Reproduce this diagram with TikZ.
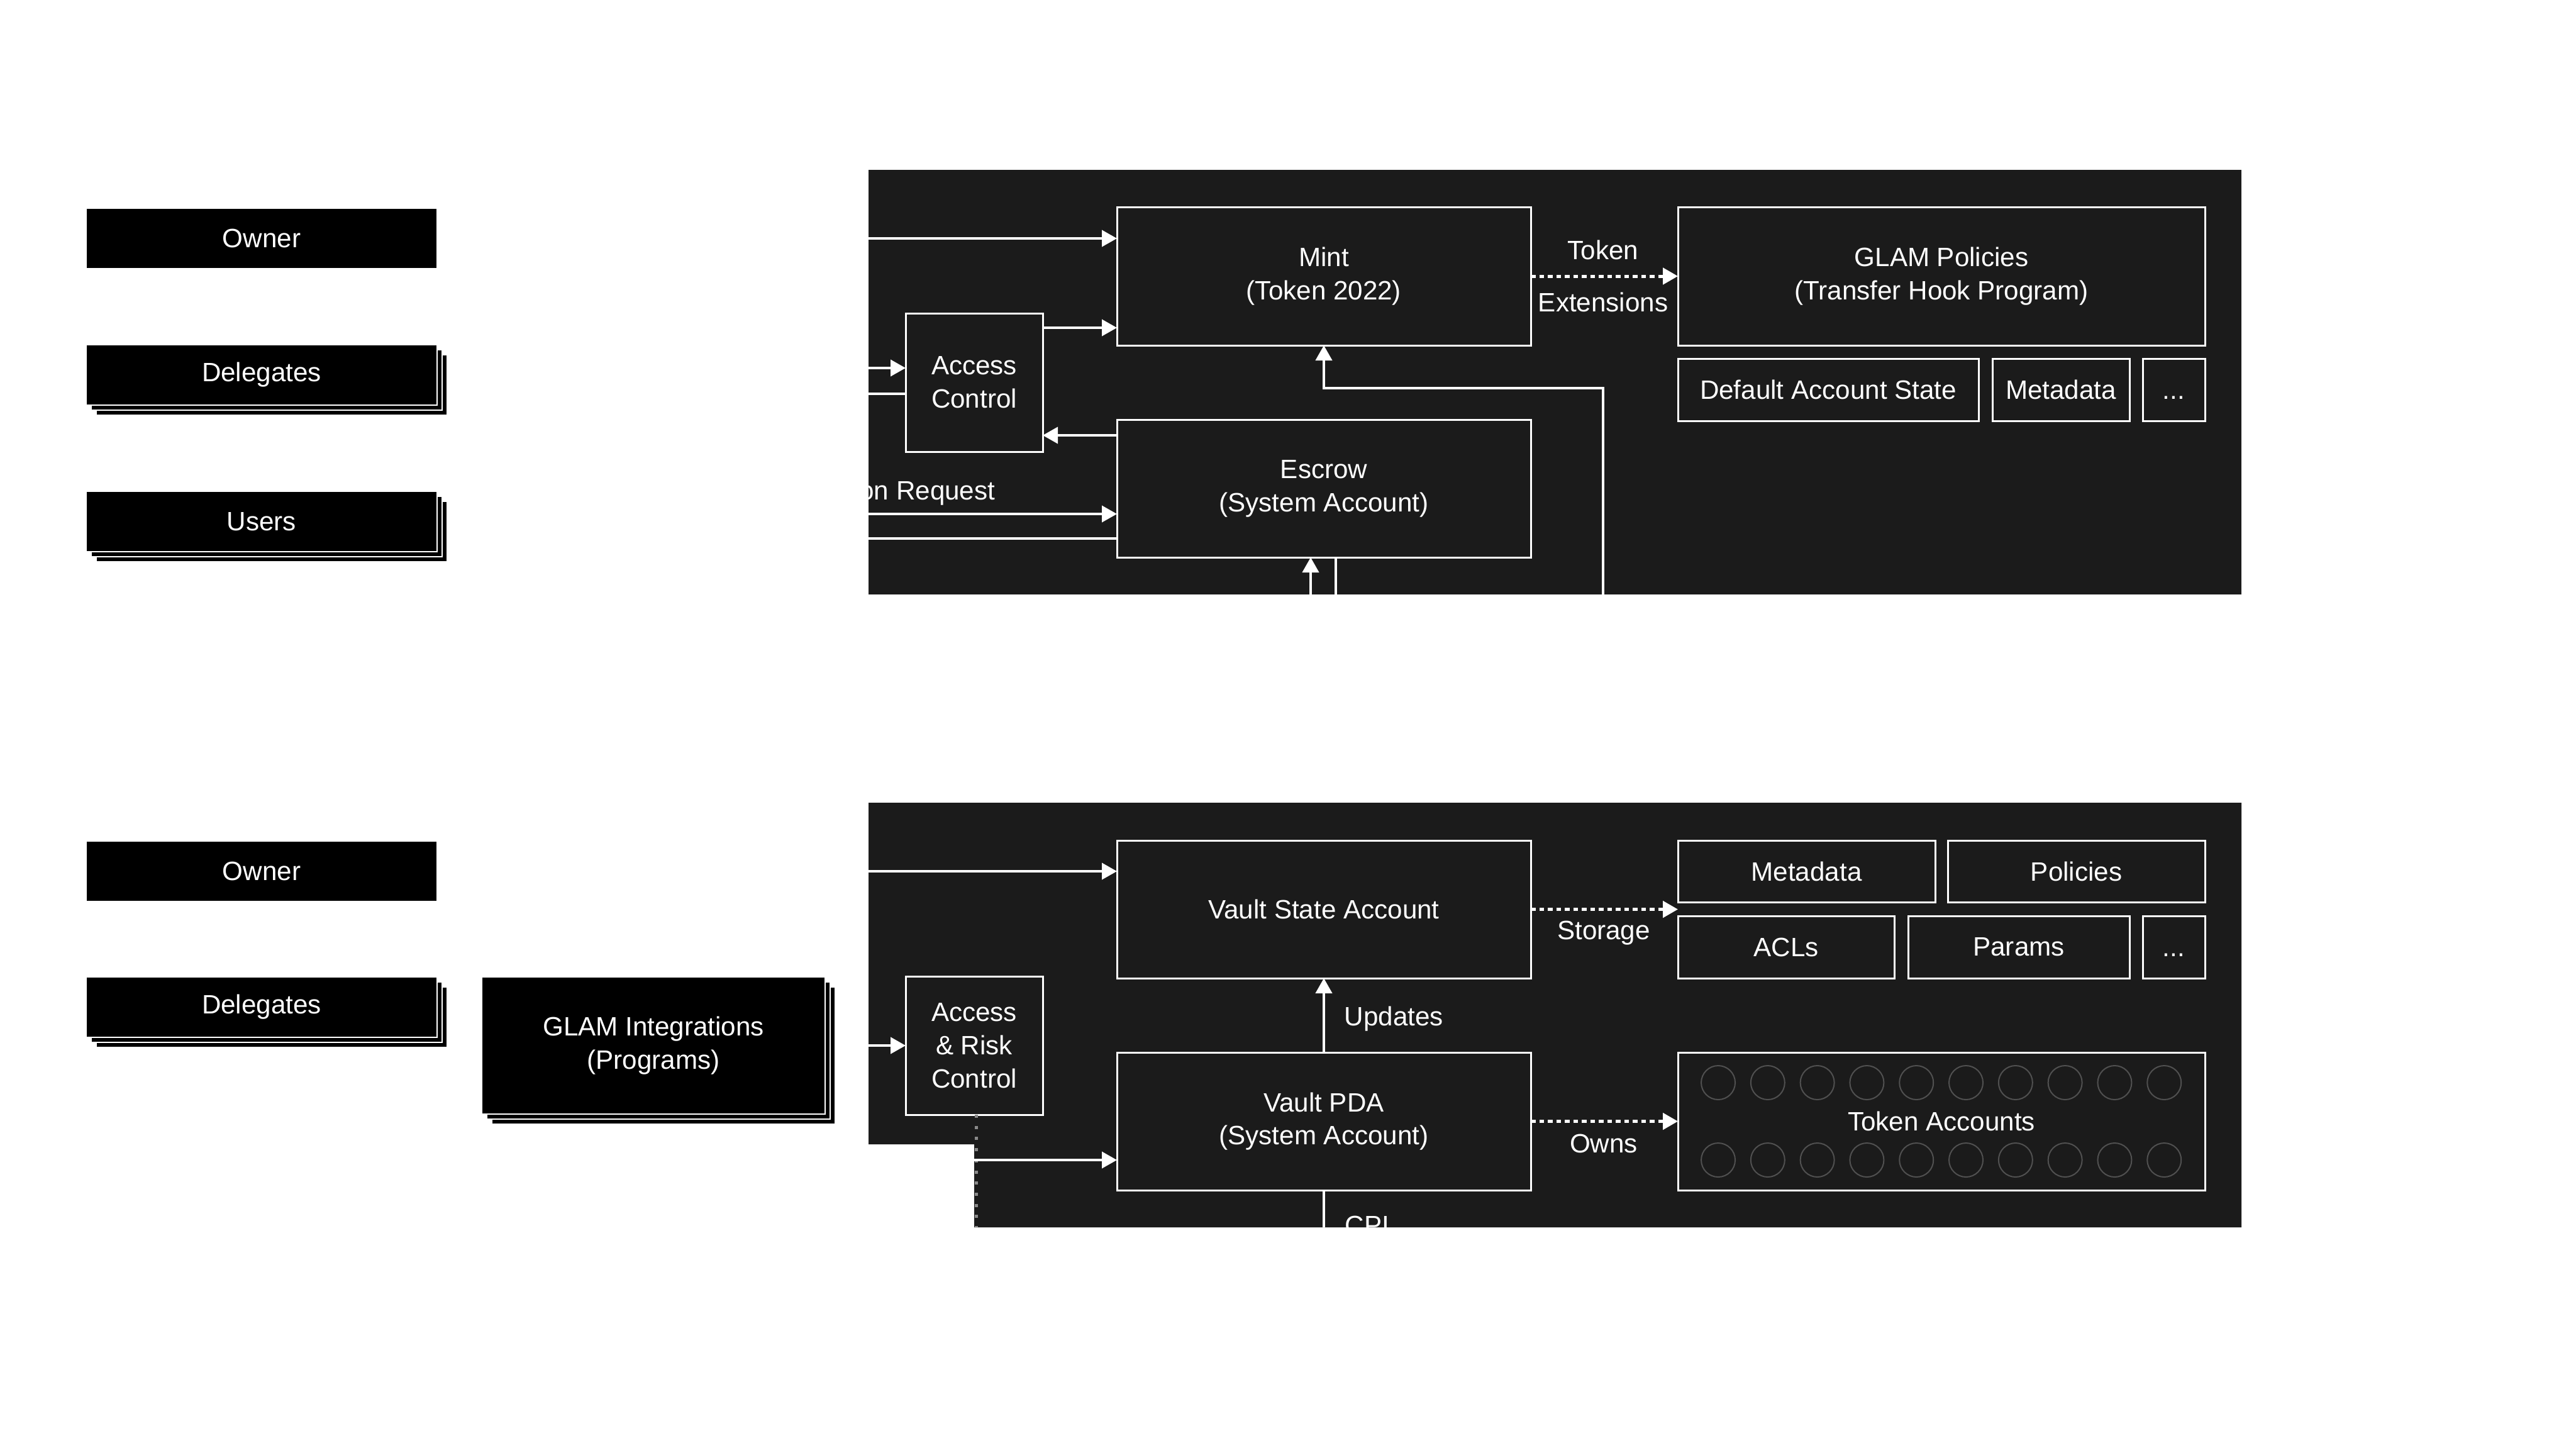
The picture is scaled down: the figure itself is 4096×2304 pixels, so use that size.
\documentclass[tikz,border=0pt]{standalone}
\usepackage{fontspec}
\setmainfont{Liberation Sans}
\usetikzlibrary{arrows.meta,shadows}
\definecolor{panel}{HTML}{1B1B1B}
\definecolor{dotgray}{HTML}{8A8A8A}
\definecolor{circgray}{HTML}{505050}
\tikzset{
  txt/.style={text=white, font=\fontsize{12}{15}\selectfont, align=center},
  inbox/.style={txt, rectangle, draw=white, line width=0.3mm, fill=panel, inner sep=0pt, outer sep=0pt},
  actor/.style={txt, rectangle, fill=black, draw=white, line width=0.2mm, inner sep=0pt, outer sep=0pt},
  stackbox/.style={actor,
    copy shadow={shadow xshift=1.6mm, shadow yshift=-1.6mm},
    copy shadow={shadow xshift=0.8mm, shadow yshift=-0.8mm}},
  arr/.style={draw=white, line width=0.4mm, -{Triangle[length=2.4mm,width=2.6mm]}},
  dotarr/.style={draw=white, line width=0.5mm, dash pattern=on 0.75mm off 0.6mm, -{Triangle[length=2.4mm,width=2.6mm]}},
  grydot/.style={draw=dotgray, line width=0.5mm, dash pattern=on 0.5mm off 1.27mm},
  lbl/.style={text=white, font=\fontsize{12}{15}\selectfont, inner sep=0pt},
  circ/.style={draw=circgray, line width=0.2mm},
}
\begin{document}
\begin{tikzpicture}[x=0.1mm,y=-0.1mm]
\useasboundingbox (0,0) rectangle (4096,2304);
\fill[white] (0,0) rectangle (4096,2304);

% panels
\fill[panel] (1381,270) rectangle (3564,945);
\fill[panel] (1381,1276) -- (3564,1276) -- (3564,1951) -- (1549,1951) -- (1549,1819) -- (1381,1819) -- cycle;

% actors (left)
\node[actor, minimum width=55.8mm, minimum height=9.6mm] (owner1) at (416,379) {Owner};
\node[stackbox, minimum width=55.8mm, minimum height=9.6mm] (del1) at (416,596) {Delegates};
\node[stackbox, minimum width=55.8mm, minimum height=9.6mm] (users) at (416,829) {Users};
\node[actor, minimum width=55.8mm, minimum height=9.6mm] (owner2) at (416,1385) {Owner};
\node[stackbox, minimum width=55.8mm, minimum height=9.6mm] (del2) at (416,1601) {Delegates};
\node[stackbox, minimum width=54.6mm, minimum height=21.8mm] (glamint) at (1039,1662) {GLAM Integrations\\(Programs)};

% top panel
\node[inbox, minimum width=65.8mm, minimum height=22mm] (mint) at (2105,439) {Mint\\(Token 2022)};
\node[inbox, minimum width=21.8mm, minimum height=22mm] (ac) at (1549,608) {Access\\Control};
\node[inbox, minimum width=65.8mm, minimum height=21.9mm] (escrow) at (2105,776.5) {Escrow\\(System Account)};
\node[inbox, minimum width=83.8mm, minimum height=22mm] (glampol) at (3087,439) {GLAM Policies\\(Transfer Hook Program)};
\node[inbox, minimum width=47.8mm, minimum height=9.9mm] (das) at (2907,619.5) {Default Account State};
\node[inbox, minimum width=21.8mm, minimum height=9.9mm] (meta1) at (3277,619.5) {Metadata};
\node[inbox, minimum width=9.9mm, minimum height=9.9mm] (dots1) at (3456.5,619.5) {\vphantom{M}...};

% bottom panel
\node[inbox, minimum width=65.8mm, minimum height=21.9mm] (vsa) at (2105,1445.5) {Vault State Account};
\node[inbox, minimum width=21.8mm, minimum height=22mm] (arc) at (1549,1662) {Access\\\& Risk\\Control};
\node[inbox, minimum width=65.8mm, minimum height=21.9mm] (vpda) at (2105,1782.5) {Vault PDA\\(System Account)};
\node[inbox, minimum width=40.9mm, minimum height=9.8mm] (meta2) at (2872.5,1385) {Metadata};
\node[inbox, minimum width=40.9mm, minimum height=9.8mm] (policies) at (3301.5,1385) {Policies};
\node[inbox, minimum width=34.4mm, minimum height=9.9mm] (acls) at (2840,1505.5) {ACLs};
\node[inbox, minimum width=35.2mm, minimum height=9.9mm] (params) at (3210,1505.5) {Params};
\node[inbox, minimum width=9.9mm, minimum height=9.9mm] (dots2) at (3456.5,1505.5) {\vphantom{M}...};
\node[inbox, minimum width=83.8mm, minimum height=21.9mm] (tokacc) at (3087,1782.5) {Token Accounts};
\foreach \k in {0,...,9} {
  \draw[circ] (2732+78.8*\k,1721) circle[radius=2.7mm];
  \draw[circ] (2732+78.8*\k,1844) circle[radius=2.7mm];
}

% helper coordinates
\coordinate (y521) at (0,521);
\coordinate (y585) at (0,585);
\coordinate (y626) at (0,626);
\coordinate (y692) at (0,692);
\coordinate (y817) at (0,817);
\coordinate (y856) at (0,856);
\coordinate (y617) at (0,617);
\coordinate (y1844) at (0,1844);
\coordinate (extM) at (2549,1010);
\coordinate (extE1) at (2084,1010);
\coordinate (extE2) at (2124,1010);
\coordinate (arcEnd) at (1552,1965);
\coordinate (cpiEnd) at (2105,2020);

% connectors, clipped to the panels
\begin{scope}
\clip (1381,270) rectangle (3564,945)
      (1381,1276) -- (3564,1276) -- (3564,1951) -- (1549,1951) -- (1549,1819) -- (1381,1819) -- cycle;
\draw[arr] (owner1.east) -- (owner1.east -| mint.west);
\draw[arr] (del1.east |- y585) -- (ac.west |- y585);
\draw[arr] (ac.west |- y626) -- (del1.east |- y626);
\draw[arr] (ac.east |- y521) -- (mint.west |- y521);
\draw[arr] (escrow.west |- y692) -- (ac.east |- y692);
\draw[arr] (users.east |- y817) -- (escrow.west |- y817);
\draw[arr] (escrow.west |- y856) -- (users.east |- y856);
\draw[arr] (extM) |- (mint.south |- y617) -- (mint.south);
\draw[arr] (extE1) -- (extE1 |- escrow.south);
\draw[arr] (escrow.south -| extE2) -- (extE2);
\draw[dotarr] (mint.east) -- (glampol.west);
\node[lbl, anchor=base] (lTok) at (2549,412) {Token};
\node[lbl, anchor=base] (lExt) at (2549,495) {Extensions};
\node[lbl, anchor=base east] (lSub) at (1583,794) {Subscription / Redemption Request};

\draw[arr] (owner2.east) -- (owner2.east -| vsa.west);
\draw[arr] (glamint.east) -- (arc.west);
\draw[grydot] (arc.south -| arcEnd) -- (arcEnd);
\draw[arr] (glamint.south) |- (vpda.west |- y1844);
\draw[arr] (vpda.north) -- (vsa.south);
\draw[dotarr] (vsa.east) -- (vsa.east -| meta2.west);
\draw[dotarr] (vpda.east) -- (tokacc.west);
\draw[arr] (vpda.south) -- (cpiEnd);
\node[lbl, anchor=base west] (lUpd) at (2137,1630) {Updates};
\node[lbl, anchor=base] (lSto) at (2550,1493) {Storage};
\node[lbl, anchor=base] (lOwn) at (2550,1832) {Owns};
\node[lbl, anchor=base west] (lCpi) at (2138,1962) {CPI};
\end{scope}
\end{tikzpicture}
\end{document}
